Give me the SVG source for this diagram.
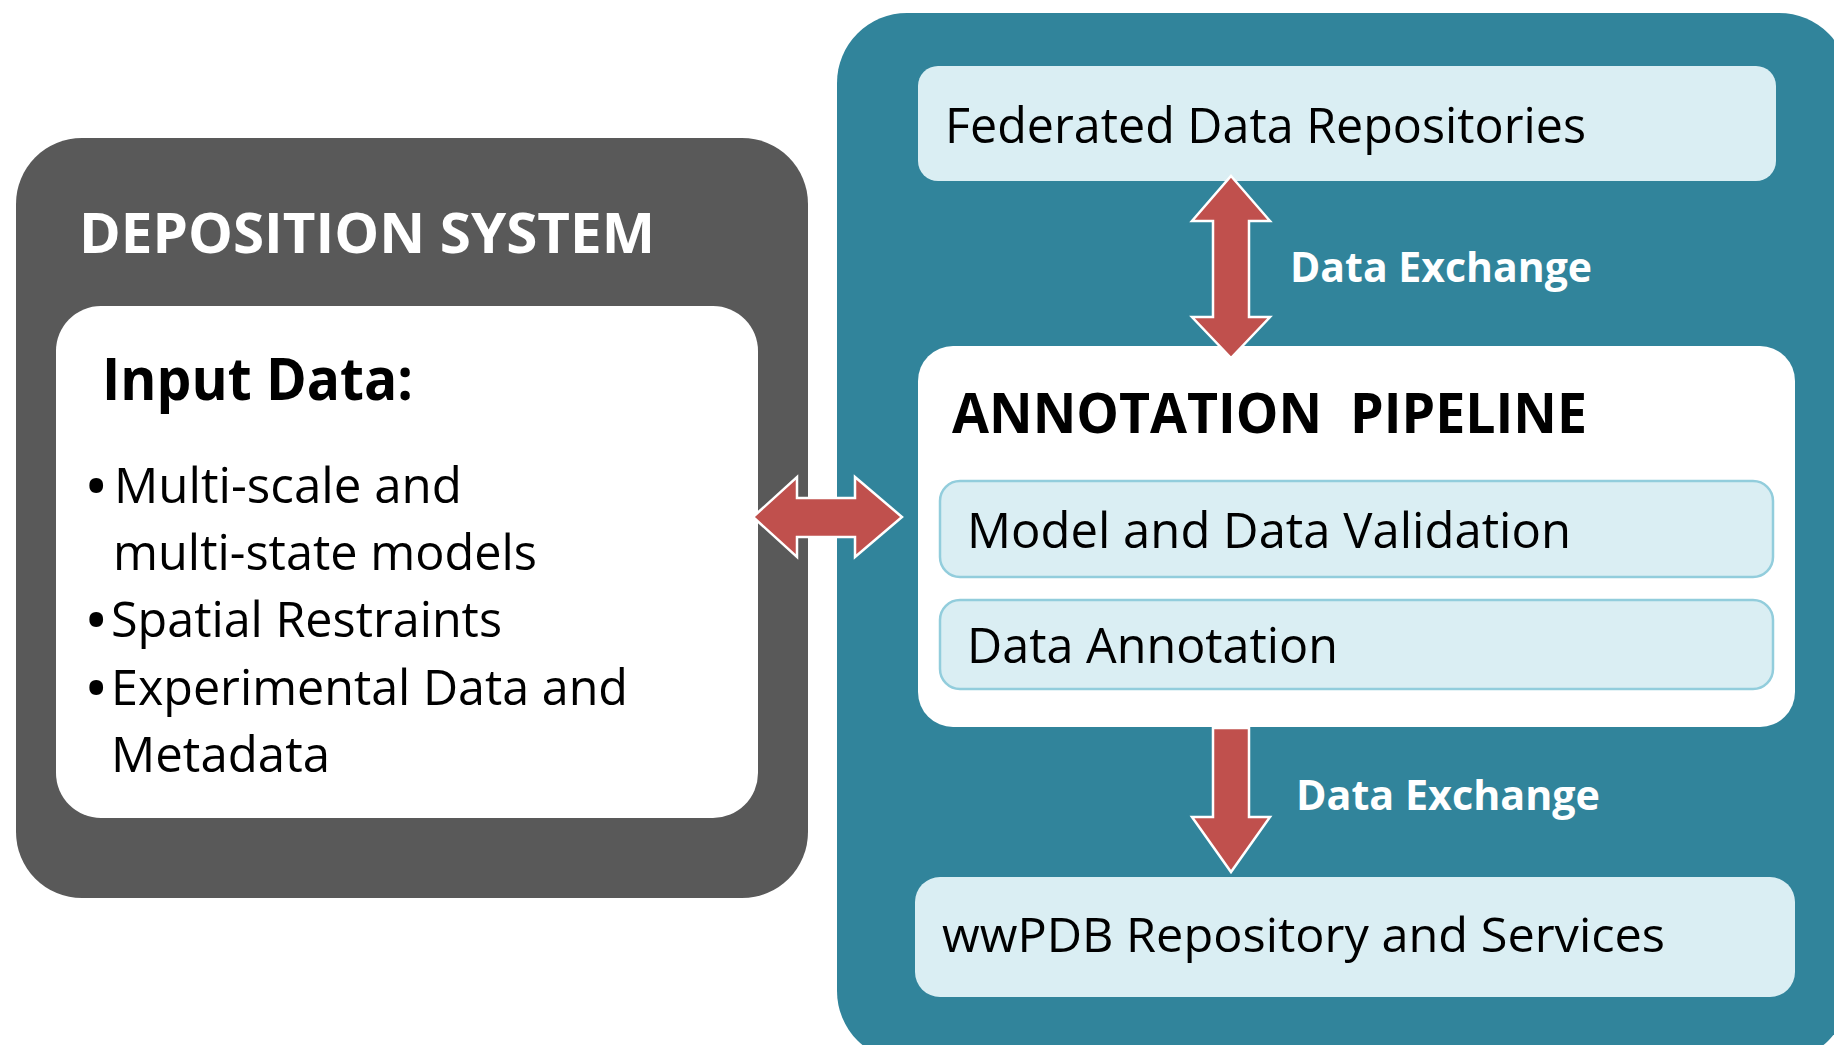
<svg xmlns="http://www.w3.org/2000/svg" width="1834" height="1045" viewBox="0 0 1834 1045">
<style>
.t{font-family:"Open Sans","Liberation Sans",sans-serif;fill:#000;white-space:pre}
.b{font-weight:bold}
.w{fill:#fff}
.lb{fill:#DAEEF3}
.bul{font-family:"Open Sans","Liberation Sans",sans-serif;fill:#000;font-size:49px;font-weight:bold}
.arr{fill:#C0504D;stroke:#fff;stroke-width:2.5;stroke-linejoin:miter}
</style>
<rect width="1834" height="1045" fill="#fff"/>
<g id="deposition-system">
<rect x="16" y="138" width="792" height="760" rx="66" fill="#595959"/>
<text class="t b w" x="79" y="253" font-size="55" textLength="576" lengthAdjust="spacingAndGlyphs">DEPOSITION SYSTEM</text>
</g>
<g id="input-data">
<rect x="56" y="306" width="702" height="512" rx="45" fill="#fff"/>
<text class="t b" x="102" y="400" font-size="59" textLength="311" lengthAdjust="spacingAndGlyphs">Input Data:</text>
<text class="bul" x="87" y="503">•</text>
<text class="t" x="114" y="503" font-size="49" textLength="348" lengthAdjust="spacingAndGlyphs">Multi-scale and</text>
<text class="t" x="113" y="570" font-size="49" textLength="424" lengthAdjust="spacingAndGlyphs">multi-state models</text>
<text class="bul" x="87" y="637">•</text>
<text class="t" x="111" y="637" font-size="49" textLength="391" lengthAdjust="spacingAndGlyphs">Spatial Restraints</text>
<text class="bul" x="87" y="705">•</text>
<text class="t" x="111" y="705" font-size="49" textLength="517" lengthAdjust="spacingAndGlyphs">Experimental Data and</text>
<text class="t" x="111" y="772" font-size="49" textLength="219" lengthAdjust="spacingAndGlyphs">Metadata</text>
</g>
<g id="wwpdb-panel">
<rect x="837" y="13" width="1012" height="1048" rx="70" fill="#31849B"/>
</g>
<g id="federated-repositories">
<rect x="918" y="66" width="858" height="115" rx="20" class="lb"/>
<text class="t" x="945" y="143" font-size="49" textLength="641" lengthAdjust="spacingAndGlyphs">Federated Data Repositories</text>
</g>
<g id="annotation-pipeline">
<rect x="918" y="346" width="877" height="381" rx="35" fill="#fff"/>
<text class="t b" x="952" y="433" font-size="56" textLength="635" lengthAdjust="spacingAndGlyphs">ANNOTATION  PIPELINE</text>
</g>
<g id="model-data-validation">
<rect x="940" y="481" width="833" height="96" rx="20" class="lb" stroke="#92CDDC" stroke-width="2.5"/>
<text class="t" x="967" y="548" font-size="50" textLength="604" lengthAdjust="spacingAndGlyphs">Model and Data Validation</text>
</g>
<g id="data-annotation">
<rect x="940" y="600" width="833" height="89" rx="20" class="lb" stroke="#92CDDC" stroke-width="2.5"/>
<text class="t" x="967" y="663" font-size="50" textLength="371" lengthAdjust="spacingAndGlyphs">Data Annotation</text>
</g>
<g id="wwpdb-repository">
<rect x="915" y="877" width="880" height="120" rx="25" class="lb"/>
<text class="t" x="942" y="952" font-size="48" textLength="723" lengthAdjust="spacingAndGlyphs">wwPDB Repository and Services</text>
</g>
<g id="connectors">
<polygon class="arr" points="753,517 797,477 797,498 855,498 855,477 902,517 855,557 855,537 797,537 797,557"/>
<polygon class="arr" points="1231,176 1270,221 1249,221 1249,317 1270,317 1231,358 1192,317 1213,317 1213,221 1192,221"/>
<polygon class="arr" points="1213,728 1249,728 1249,817 1270,817 1231,872 1192,817 1213,817"/>
<text class="t b w" x="1290" y="282" font-size="42" textLength="302" lengthAdjust="spacingAndGlyphs">Data Exchange</text>
<text class="t b w" x="1296" y="810" font-size="42" textLength="304" lengthAdjust="spacingAndGlyphs">Data Exchange</text>
</g>
</svg>
